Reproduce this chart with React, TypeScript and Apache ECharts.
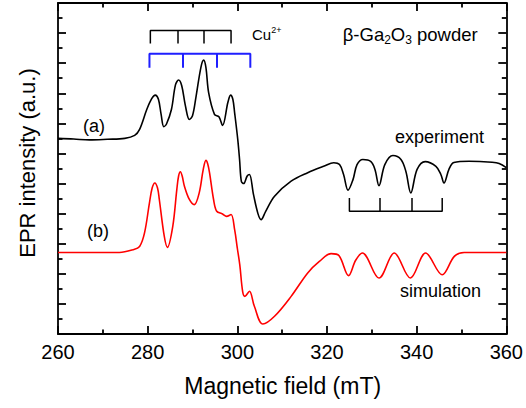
import React, { useEffect, useRef } from "react";
import * as echarts from "echarts";

const xTicks = [260, 280, 300, 320, 340, 360];

const expField = [260.0, 263.5, 267.0, 271.0, 274.9, 277.1, 278.2, 279.8, 280.9, 281.7, 282.4, 283.0, 283.6, 284.2, 285.3, 286.2, 286.9, 287.6, 288.4, 289.3, 290.0, 290.8, 291.9, 292.5, 293.0, 293.6, 294.9, 295.9, 296.7, 297.9, 298.5, 299.0, 299.4, 300.1, 300.5, 300.9, 301.4, 302.2, 302.7, 303.6, 304.6, 305.3, 306.3, 308.3, 312.0, 315.7, 319.4, 321.5, 322.8, 323.7, 324.7, 325.8, 326.7, 328.0, 329.8, 330.7, 331.6, 332.9, 334.7, 336.5, 337.6, 338.7, 340.1, 341.9, 344.3, 345.4, 346.1, 347.2, 348.3, 351.7, 356.8, 358.4, 360.0];
const expSignal = [6.50, 6.48, 6.45, 6.47, 6.50, 6.60, 6.80, 7.46, 7.82, 7.94, 7.80, 7.30, 6.89, 6.98, 7.46, 8.28, 8.44, 8.25, 7.60, 7.13, 7.25, 7.90, 8.88, 9.10, 8.85, 8.02, 7.30, 7.22, 6.93, 7.70, 7.94, 7.80, 7.35, 6.46, 5.80, 5.07, 5.00, 5.25, 5.30, 4.64, 4.00, 3.80, 4.07, 4.58, 5.08, 5.36, 5.58, 5.69, 5.63, 5.30, 4.78, 5.13, 5.63, 5.80, 5.73, 5.47, 4.93, 5.63, 5.93, 5.80, 5.40, 4.69, 5.47, 5.73, 5.57, 5.30, 5.02, 5.47, 5.70, 5.74, 5.71, 5.67, 5.53];

const simField = [260.0, 267.0, 273.7, 276.7, 278.2, 279.3, 280.4, 281.0, 281.6, 282.2, 282.6, 283.7, 284.4, 285.6, 286.5, 286.9, 287.3, 287.7, 288.2, 289.3, 290.4, 291.5, 292.4, 293.0, 293.4, 293.8, 294.7, 295.4, 296.7, 297.6, 298.6, 299.4, 300.0, 300.55, 301.2, 301.7, 302.7, 303.8, 305.7, 308.3, 312.0, 315.7, 318.3, 320.9, 322.7, 324.8, 326.4, 327.9, 331.6, 335.0, 338.6, 342.0, 345.7, 348.4, 350.6, 355.0, 360.0];
const simSignal = [2.71, 2.71, 2.71, 2.80, 2.91, 3.36, 4.36, 4.85, 5.02, 4.85, 4.47, 3.25, 2.88, 3.58, 4.80, 5.25, 5.39, 5.25, 4.91, 4.47, 4.30, 4.69, 5.47, 5.77, 5.65, 5.36, 4.47, 4.08, 3.99, 3.91, 3.97, 3.47, 2.85, 2.30, 1.40, 1.25, 1.42, 0.92, 0.33, 0.59, 1.25, 2.03, 2.41, 2.67, 2.60, 1.94, 2.45, 2.69, 1.86, 2.69, 1.86, 2.69, 1.97, 2.58, 2.71, 2.71, 2.71];

const cuTicks = [280.6, 286.6, 292.6, 298.6];
const blueTicks = [280.4, 287.9, 295.4, 302.9];
const lowTicks = [325.0, 331.8, 338.8, 345.7];

const FONT = "'Liberation Sans', Arial, sans-serif";

function bracket(name: string, ticks: number[], h: number, end: number, color: string, width: number) {
  const first = ticks[0];
  const last = ticks[ticks.length - 1];
  return {
    type: "line",
    name,
    data: [[first, end], [first, h], [last, h], [last, end]],
    symbol: "none",
    silent: true,
    lineStyle: { color, width },
    z: 3,
    markLine: {
      silent: true,
      symbol: ["none", "none"],
      label: { show: false },
      lineStyle: { color, width, type: "solid" },
      data: ticks.slice(1, -1).map((t) => [{ coord: [t, h] }, { coord: [t, end] }]),
    },
  };
}

function makeX(pos: "bottom" | "top") {
  return {
    type: "value",
    min: 260,
    max: 360,
    interval: 20,
    position: pos,
    axisLine: { show: true, onZero: false, lineStyle: { color: "#000", width: 1.8 } },
    axisTick: { show: true, inside: true, length: 8, lineStyle: { color: "#000", width: 1.8 } },
    minorTick: { show: true, splitNumber: 2, length: 4.5, lineStyle: { color: "#000", width: 1.8 } },
    axisLabel: {
      show: pos === "bottom",
      color: "#000",
      fontSize: 20,
      fontFamily: FONT,
      margin: 8,
      formatter: (v: number) => (xTicks.includes(v) ? String(v) : ""),
    },
    splitLine: { show: false },
  };
}

function makeY(pos: "left" | "right") {
  return {
    type: "value",
    min: 0,
    max: 11,
    interval: 1,
    position: pos,
    axisLine: { show: true, onZero: false, lineStyle: { color: "#000", width: 1.8 } },
    axisTick: { show: true, inside: true, length: 8, lineStyle: { color: "#000", width: 1.8 } },
    minorTick: { show: true, splitNumber: 2, length: 4.5, lineStyle: { color: "#000", width: 1.8 } },
    axisLabel: { show: false },
    splitLine: { show: false },
  };
}

export default function App() {
  const ref = useRef<HTMLDivElement>(null);
  useEffect(() => {
    const chart = echarts.init(ref.current!, undefined, { renderer: "svg" });
    const option = {
      animation: false,
      backgroundColor: "#fff",
      grid: { left: 58, top: 3, right: 19, bottom: 74 },
      xAxis: [makeX("bottom"), makeX("top")],
      yAxis: [makeY("left"), makeY("right")],
      series: [
        {
          type: "line",
          name: "experiment",
          data: expField.map((b, i) => [b, expSignal[i]]),
          symbol: "none",
          smooth: 0.35,
          lineStyle: { color: "#000", width: 1.6 },
          z: 4,
        },
        {
          type: "line",
          name: "simulation",
          data: simField.map((b, i) => [b, simSignal[i]]),
          symbol: "none",
          smooth: 0.35,
          lineStyle: { color: "#ff0000", width: 1.6 },
          z: 4,
        },
        bracket("Cu black", cuTicks, 10.09, 9.65, "#000", 1.5),
        bracket("Cu blue", blueTicks, 9.31, 8.85, "#1f1fff", 2),
        bracket("low field", lowTicks, 4.08, 4.52, "#000", 1.5),
      ],
      graphic: [
        {
          type: "text",
          x: 27,
          y: 163,
          rotation: Math.PI / 2,
          style: { text: "EPR intensity (a.u.)", fontSize: 22, fontFamily: FONT, fill: "#000", align: "center", verticalAlign: "middle" },
        },
        {
          type: "text",
          x: 282.7,
          y: 386,
          style: { text: "Magnetic field (mT)", fontSize: 23, fontFamily: FONT, fill: "#000", align: "center", verticalAlign: "middle" },
        },
        {
          type: "text",
          x: 252,
          y: 25.8,
          style: {
            text: "{m|Cu}{s|2+}",
            fill: "#000",
            align: "left",
            verticalAlign: "top",
            rich: {
              m: { fontSize: 15, lineHeight: 18, fontFamily: FONT, fill: "#000" },
              s: { fontSize: 9, lineHeight: 9, fontFamily: FONT, fill: "#000", verticalAlign: "top" },
            },
          },
        },
        {
          type: "text",
          x: 342.7,
          y: 23.5,
          style: {
            text: "{m|β-Ga}{s|2}{m|O}{s|3}{m| powder}",
            fill: "#000",
            align: "left",
            verticalAlign: "top",
            rich: {
              m: { fontSize: 18.5, lineHeight: 22, fontFamily: FONT, fill: "#000" },
              s: { fontSize: 12, lineHeight: 6, fontFamily: FONT, fill: "#000", verticalAlign: "bottom" },
            },
          },
        },
        { type: "text", x: 83, y: 126, style: { text: "(a)", fontSize: 18, fontFamily: FONT, fill: "#000", align: "left", verticalAlign: "middle" } },
        { type: "text", x: 87, y: 231, style: { text: "(b)", fontSize: 18, fontFamily: FONT, fill: "#000", align: "left", verticalAlign: "middle" } },
        { type: "text", x: 395, y: 137.4, style: { text: "experiment", fontSize: 18, fontFamily: FONT, fill: "#000", align: "left", verticalAlign: "middle" } },
        { type: "text", x: 400, y: 290.8, style: { text: "simulation", fontSize: 18, fontFamily: FONT, fill: "#000", align: "left", verticalAlign: "middle" } },
      ],
    };
    chart.setOption(option as any);
    return () => chart.dispose();
  }, []);
  return <div ref={ref} style={{ position: "fixed", left: 0, top: 0, width: 526, height: 408, background: "#fff" }} />;
}
